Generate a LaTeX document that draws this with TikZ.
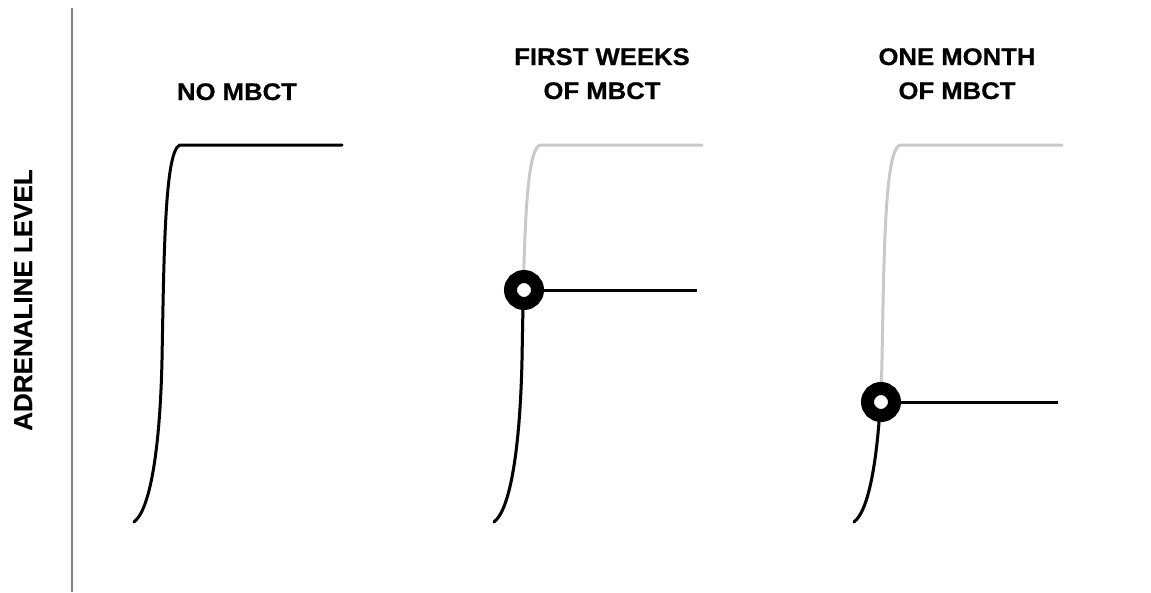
\documentclass[tikz,border=0pt]{standalone}
\usepackage{fontspec}
\setmainfont{Liberation Sans}
\newfontfamily\titlefont{Liberation Sans}[FakeStretch=1.07,BoldFeatures={FakeBold=0.6}]
\newfontfamily\labelfont{Liberation Sans}[BoldFeatures={FakeBold=0.6}]
\begin{document}
\begin{tikzpicture}[x=1pt,y=-1pt,
  curve/.style={line width=3pt, line cap=round, line join=round},
  ghost/.style={curve, draw=black!21},
  ring/.style={circle, draw=black, fill=white, line width=13pt, minimum size=27pt, inner sep=0pt},
  title/.style={font=\titlefont\fontsize{24}{34}\selectfont\bfseries, align=center, anchor=base, text=black},
  axislabel/.style={font=\labelfont\fontsize{26}{30}\selectfont\bfseries, rotate=90, anchor=base}
]
\useasboundingbox (0,0) rectangle (1151,592);
\newcommand\sigpath{(134,522) .. controls (150,510) and (160,450) .. (162,360) .. controls (164,250) and (165,150) .. (180,145)}

% axis
\coordinate (axtop) at (72,8);
\coordinate (axbot) at (72,592);
\draw[line width=1.5pt, draw=black!50] (axtop) -- (axbot);
\node[axislabel] (ylab) at (32,300) {ADRENALINE LEVEL};

% titles
\node[title] (t1) at (237,100) {NO MBCT};
\node[title] (t2) at (602,99) {FIRST WEEKS\\OF MBCT};
\node[title] (t3) at (957,99) {ONE MONTH\\OF MBCT};

% panel 1
\draw[curve] \sigpath -- (342,145);

% panel 2
\begin{scope}[xshift=360pt]
  \draw[ghost] \sigpath -- (342,145);
  \begin{scope}
    \clip (100,290) rectangle (220,540);
    \draw[curve] \sigpath;
  \end{scope}
\end{scope}
\node[ring] (c2) at (524,290) {};
\coordinate (e2) at (697,290);
\draw[curve, line cap=butt] (c2.east) -- (e2);

% panel 3
\begin{scope}[xshift=720pt]
  \draw[ghost] \sigpath -- (342,145);
  \begin{scope}
    \clip (100,402) rectangle (220,540);
    \draw[curve] \sigpath;
  \end{scope}
\end{scope}
\node[ring] (c3) at (881,402) {};
\coordinate (e3) at (1058,402);
\draw[curve, line cap=butt] (c3.east) -- (e3);
\end{tikzpicture}
\end{document}
